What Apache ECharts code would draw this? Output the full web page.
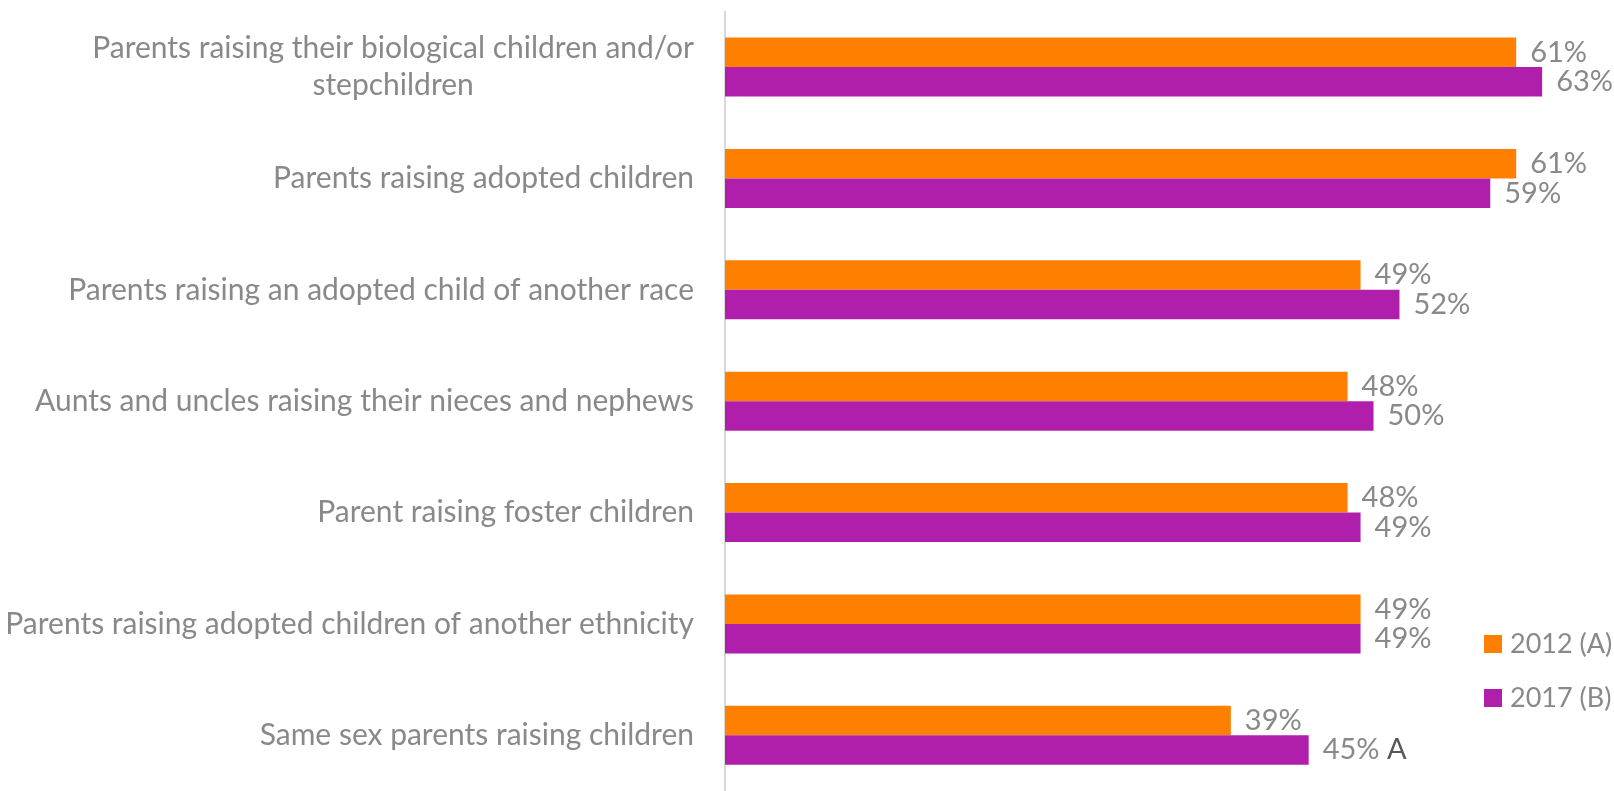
<!DOCTYPE html>
<html>
<head>
<meta charset="utf-8">
<script src="https://cdn.jsdelivr.net/npm/echarts@6/dist/echarts.min.js"></script>
<style>
html,body{margin:0;padding:0;background:#fff;}
#main{width:1614px;height:791px;}
</style>
</head>
<body>
<div id="main"></div>
<script>
const categories = [
  'Parents raising their biological children and/or\nstepchildren',
  'Parents raising adopted children',
  'Parents raising an adopted child of another race',
  'Aunts and uncles raising their nieces and nephews',
  'Parent raising foster children',
  'Parents raising adopted children of another ethnicity',
  'Same sex parents raising children'
];
const seriesNames = ['2012 (A)', '2017 (B)'];
const values2012 = [61, 61, 49, 48, 48, 49, 39];
const values2017 = [63, 59, 52, 50, 49, 49, 45];
const sig2017 = ['', '', '', '', '', '', 'A'];

const FONT = 'Lato';
const CAT_SIZE = 30;
const LBL_SIZE = 29;
const LEG_SIZE = 27;

function measure(text, size) {
  const c = document.createElement('canvas').getContext('2d');
  c.font = size + 'px ' + FONT;
  return c.measureText(text).width;
}

const chart = echarts.init(document.getElementById('main'));

function build() {
  let maxW = 0;
  categories.forEach(c => {
    if (c.indexOf('\n') >= 0) c.split('\n').forEach(l => { maxW = Math.max(maxW, measure(l, CAT_SIZE)); });
  });
  const option = {
    animation: false,
    backgroundColor: '#ffffff',
    grid: { left: 725, right: 7, top: 11.4, bottom: -6, containLabel: false },
    legend: {
      orient: 'vertical',
      left: 1479,
      top: 622,
      itemWidth: 18,
      itemHeight: 18,
      itemGap: 20,
      icon: 'rect',
      textStyle: { fontFamily: FONT, fontSize: LEG_SIZE, color: '#898989', lineHeight: 34, padding: [0, 0, 0, 3] },
      data: seriesNames
    },
    xAxis: {
      type: 'value', min: 0, max: 68,
      axisLine: { show: false }, axisTick: { show: false },
      axisLabel: { show: false }, splitLine: { show: false }
    },
    yAxis: {
      type: 'category',
      inverse: true,
      data: categories,
      axisLine: { show: true, lineStyle: { color: '#D9D9D9', width: 2 } },
      axisTick: { show: false },
      axisLabel: {
        margin: 31,
        fontFamily: FONT,
        fontSize: CAT_SIZE,
        color: '#898989',
        lineHeight: 37,
        formatter: function (v) {
          if (v.indexOf('\n') >= 0) {
            return v.split('\n').map(l => '{c|' + l + '}').join('\n');
          }
          return v;
        },
        rich: {
          c: { width: maxW, align: 'center', fontFamily: FONT, fontSize: CAT_SIZE, color: '#898989', lineHeight: 37 }
        }
      }
    },
    series: [
      {
        name: seriesNames[0],
        type: 'bar',
        data: values2012,
        barWidth: 29.5,
        barGap: '0%',
        itemStyle: { color: '#FF8000' },
        label: {
          show: true, position: 'right', distance: 14,
          fontFamily: FONT, fontSize: LBL_SIZE, color: '#898989',
          formatter: '{c}%'
        }
      },
      {
        name: seriesNames[1],
        type: 'bar',
        data: values2017,
        barWidth: 29.5,
        barGap: '0%',
        itemStyle: { color: '#B01FAC' },
        label: {
          show: true, position: 'right', distance: 14,
          fontFamily: FONT, fontSize: LBL_SIZE, color: '#898989',
          formatter: function (p) {
            const s = sig2017[p.dataIndex];
            return p.value + '%' + (s ? ' {s|' + s + '}' : '');
          },
          rich: {
            s: { fontFamily: FONT, fontSize: LBL_SIZE, color: '#595959' }
          }
        }
      }
    ]
  };
  chart.setOption(option);
}

if (document.fonts && document.fonts.load) {
  document.fonts.load(CAT_SIZE + 'px ' + FONT).then(build, build);
} else {
  build();
}
</script>
</body>
</html>
